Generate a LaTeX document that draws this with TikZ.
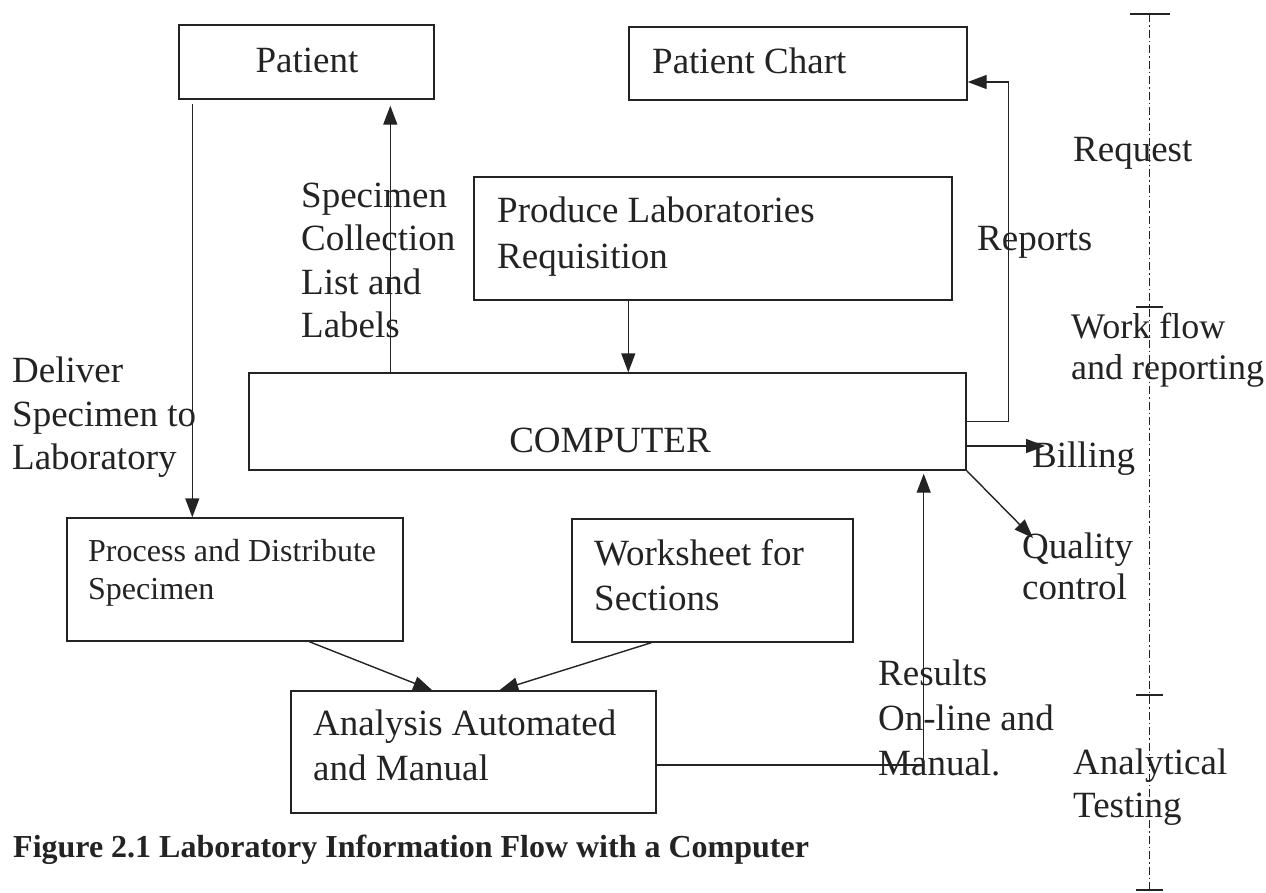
\documentclass[tikz,border=0pt]{standalone}
\usepackage{fontspec}
\setmainfont{Liberation Serif}
\usetikzlibrary{arrows.meta,calc}
\definecolor{ink}{RGB}{35,35,35}
\tikzset{
  box/.style={draw=ink, line width=1.4pt, rectangle, inner sep=0pt},
  txt/.style={inner sep=0pt, font=\fontsize{37}{43.5}\selectfont, text=ink, align=left},
  smalltxt/.style={inner sep=0pt, font=\fontsize{32}{38}\selectfont, text=ink, align=left},
  captxt/.style={inner sep=0pt, font=\bfseries\fontsize{32}{38}\selectfont, text=ink},
  arr/.style={draw=ink, line width=1.4pt, -{Triangle[length=19pt,width=14pt]}},
  ln/.style={draw=ink, line width=1.4pt},
  scaleline/.style={draw=ink, line width=1pt, dash pattern=on 8pt off 3pt on 1.5pt off 3pt},
  tick/.style={draw=ink, line width=1.2pt}
}
\begin{document}
\begin{tikzpicture}[x=1pt,y=-1pt]
\useasboundingbox (0,0) rectangle (1266,892);

% boxes
\node[box, minimum width=255pt, minimum height=74pt]  (patient)   at (306.5,62)  {};
\node[box, minimum width=338pt, minimum height=73pt]  (chart)     at (798,63.5)  {};
\node[box, minimum width=478pt, minimum height=123pt] (produce)   at (713,238.5) {};
\node[box, minimum width=717pt, minimum height=97pt]  (computer)  at (607.5,421.5) {};
\node[box, minimum width=336pt, minimum height=123pt] (process)   at (235,579.5) {};
\node[box, minimum width=281pt, minimum height=123pt] (worksheet) at (712.5,580.5) {};
\node[box, minimum width=365pt, minimum height=122pt] (analysis)  at (473.5,752) {};

% texts
\node[txt, anchor=base] (tpatient) at (307,72) {Patient};
\node[txt, anchor=base west] (tchart) at (652,73) {Patient Chart};
\node[txt, anchor=north west] (tspec) at (301,182.5) {Specimen\\Collection\\List and\\Labels};
\node[txt, anchor=north west, font=\fontsize{37}{46}\selectfont] (tproduce) at (497,197) {Produce Laboratories\\Requisition};
\node[txt, anchor=north west] (tdeliver) at (12,357) {Deliver\\Specimen to\\Laboratory};
\node[txt, anchor=base] (tcomputer) at (610,452) {COMPUTER};
\node[smalltxt, anchor=north west] (tprocess) at (88,539) {Process and Distribute\\Specimen};
\node[txt, anchor=north west, font=\fontsize{37}{45}\selectfont] (tworksheet) at (594,539) {Worksheet for\\Sections};
\node[txt, anchor=north west, font=\fontsize{37}{45}\selectfont] (tanalysis) at (313,710) {Analysis Automated\\and Manual};
\node[txt, anchor=north west, font=\fontsize{37}{45}\selectfont] (tresults) at (878,660) {Results\\On-line and\\Manual.};
\node[txt, anchor=base west] (trequest) at (1073,161) {Request};
\node[txt, anchor=base west] (treports) at (977,250) {Reports};
\node[txt, anchor=north west, font=\fontsize{36}{41}\selectfont] (tworkflow) at (1071,313) {Work flow\\and reporting};
\node[txt, anchor=base west] (tbilling) at (1032,467) {Billing};
\node[txt, anchor=north west, font=\fontsize{37}{41}\selectfont] (tquality) at (1022,533) {Quality\\control};
\node[txt, anchor=north west, font=\fontsize{37}{43}\selectfont] (tanalytical) at (1073,749) {Analytical\\Testing};
\node[captxt, anchor=base west] (caption) at (13,857) {Figure 2.1 Laboratory Information Flow with a Computer};

% connectors
\draw[arr] ([xshift=14pt,yshift=-4pt]patient.south west) coordinate (pd) -- (pd |- process.north);
\draw[arr, shorten >=6pt] ([xshift=142pt]computer.north west) coordinate (cu) -- (cu |- patient.south);
\draw[arr] ([xshift=155pt]produce.south west) coordinate (pr) -- (pr |- computer.north);
\draw[arr] (computer.east) -- ++(42,0) |- ([yshift=-18.5pt]chart.east);
\coordinate (bt) at (1045,446);
\draw[arr] (computer.east |- bt) -- (bt);
\coordinate (qt) at (1033,538);
\draw[arr] (computer.south east) -- (qt);
\draw[arr, shorten >=3pt] ([yshift=-13pt]analysis.east) -| ([xshift=-43pt]computer.south east);
\draw[arr] ([xshift=243pt]process.south west) -- ([xshift=142pt]analysis.north west);
\draw[arr] ([xshift=80pt]worksheet.south west) -- ([xshift=209pt]analysis.north west);

% scale on the right
\coordinate (st) at (1149.5,14);
\coordinate (t1) at (1149.5,307);
\coordinate (t2) at (1149.5,695);
\coordinate (sb) at (1149.5,890);
\draw[scaleline] (st) -- (sb);
\draw[tick] ([xshift=-20pt]st) -- ([xshift=20pt]st);
\draw[tick] ([xshift=-13.5pt]t1) -- ([xshift=13.5pt]t1);
\draw[tick] ([xshift=-13.5pt]t2) -- ([xshift=13.5pt]t2);
\draw[tick] ([xshift=-13.5pt]sb) -- ([xshift=13.5pt]sb);
\end{tikzpicture}
\end{document}
